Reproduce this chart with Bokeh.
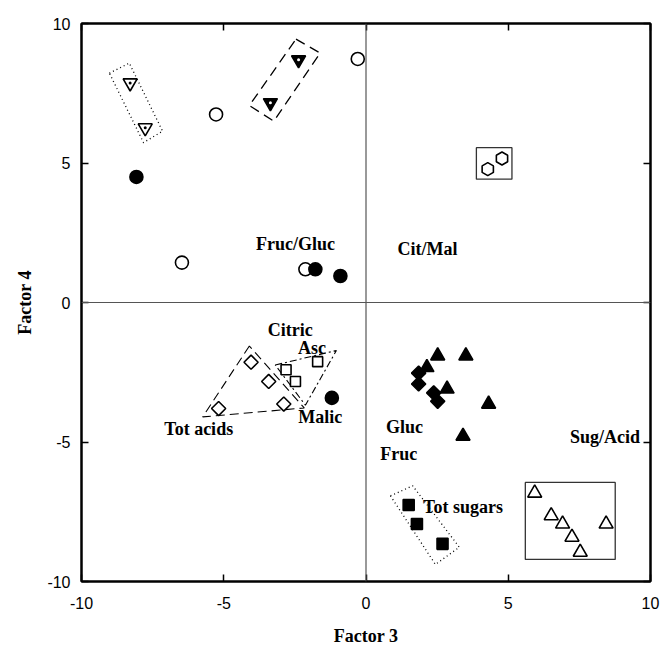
import numpy as np
from bokeh.plotting import figure
from bokeh.models import Range1d, LinearAxis, Span, FixedTicker
from bokeh.core.properties import value
from bokeh.embed import file_html
from bokeh.resources import INLINE

# ---------------- data ----------------
x_ticks = [-10, -5, 0, 5, 10]
y_ticks = [-10, -5, 0, 5, 10]
tick_labels = ["-10", "-5", "0", "5", "10"]

open_circle_x = [-0.29, -5.27, -6.47, -2.13]
open_circle_y = [8.73, 6.74, 1.43, 1.19]
filled_circle_x = [-8.07, -1.78, -0.90, -1.20]
filled_circle_y = [4.50, 1.19, 0.95, -3.42]
open_invtri_x = [-8.29, -7.76]
open_invtri_y = [7.87, 6.26]
filled_invtri_x = [-2.37, -3.36]
filled_invtri_y = [8.70, 7.16]
hex_x = [4.28, 4.78]
hex_y = [4.78, 5.16]
open_diamond_x = [-4.04, -3.42, -2.89, -5.18]
open_diamond_y = [-2.14, -2.83, -3.64, -3.80]
open_square_x = [-2.81, -2.48, -1.70]
open_square_y = [-2.41, -2.83, -2.12]
filled_diamond_x = [1.85, 1.85, 2.38, 2.52]
filled_diamond_y = [-2.53, -2.92, -3.24, -3.54]
filled_tri_x = [2.52, 3.51, 2.14, 2.85, 4.31, 3.41]
filled_tri_y = [-1.91, -1.91, -2.33, -3.10, -3.64, -4.79]
filled_square_x = [1.50, 1.79, 2.69]
filled_square_y = [-7.26, -7.94, -8.65]
open_tri_x = [5.93, 6.51, 6.91, 7.24, 7.53, 8.44]
open_tri_y = [-6.83, -7.64, -7.94, -8.41, -8.95, -7.94]

# enclosures (data units)
enc_invtri_open_x = [-9.02, -8.32, -7.15, -7.82]
enc_invtri_open_y = [8.22, 8.58, 6.14, 5.73]
enc_invtri_filled_x = [-2.46, -1.61, -3.24, -4.10]
enc_invtri_filled_y = [9.44, 8.94, 6.50, 7.06]
enc_hex_x = [3.88, 5.13, 5.13, 3.88]
enc_hex_y = [5.55, 5.55, 4.42, 4.42]
enc_diamond_x = [-4.10, -5.74, -2.17]
enc_diamond_y = [-1.56, -4.10, -3.78]
enc_square_x = [-3.19, -1.04, -2.13]
enc_square_y = [-2.24, -1.72, -3.68]
enc_fsquare_x = [0.86, 1.64, 3.28, 2.44]
enc_fsquare_y = [-6.93, -6.57, -8.77, -9.39]
enc_otri_x = [5.60, 8.76, 8.76, 5.60]
enc_otri_y = [-6.45, -6.45, -9.21, -9.21]

labels = ["Fruc/Gluc", "Cit/Mal", "Citric", "Asc", "Malic", "Tot acids",
          "Gluc", "Fruc", "Sug/Acid", "Tot sugars"]
label_x = [-2.48, 2.16, -2.66, -1.90, -1.61, -5.88, 1.35, 1.15, 8.40, 3.41]
label_y = [2.10, 1.93, -0.99, -1.64, -4.11, -4.53, -4.46, -5.44, -4.81, -7.34]

# ---------------- figure ----------------
p = figure(width=660, height=648, x_range=Range1d(-10, 10), y_range=Range1d(-10, 10),
           output_backend="svg", toolbar_location=None,
           min_border_left=81, min_border_right=10, min_border_top=23, min_border_bottom=64)
p.grid.visible = False
p.outline_line_color = "black"
p.outline_line_width = 2
p.background_fill_color = "white"
p.border_fill_color = "white"

overrides = {t: s for t, s in zip(x_ticks, tick_labels)}

def style_axis(ax, ticks, labels_on=True):
    ax.ticker = FixedTicker(ticks=ticks)
    ax.axis_line_width = 2
    ax.axis_line_color = "black"
    ax.major_tick_in = 7
    ax.major_tick_out = 0
    ax.minor_tick_in = 0
    ax.minor_tick_out = 0
    ax.major_tick_line_width = 1.5
    ax.major_tick_line_color = "black"
    if labels_on:
        ax.major_label_overrides = overrides
        ax.major_label_text_font = "Liberation Sans"
        ax.major_label_text_font_size = "16px"
        ax.major_label_text_color = "black"
        ax.axis_label_text_font = "Liberation Serif"
        ax.axis_label_text_font_style = "bold"
        ax.axis_label_text_font_size = "18px"
        ax.axis_label_text_color = "black"
    else:
        ax.major_label_text_font_size = "0px"
        ax.major_label_standoff = 0

xa = p.xaxis[0]
ya = p.yaxis[0]
style_axis(xa, x_ticks)
style_axis(ya, y_ticks)
xa.axis_label = "Factor 3"
ya.axis_label = "Factor 4"
xa.major_label_standoff = 15
xa.axis_label_standoff = 14
ya.major_label_standoff = 11
ya.axis_label_standoff = 9

top = LinearAxis()
style_axis(top, x_ticks, labels_on=False)
p.add_layout(top, "above")
right = LinearAxis()
style_axis(right, y_ticks, labels_on=False)
p.add_layout(right, "right")

p.add_layout(Span(location=0, dimension="height", line_color="#555555", line_width=1.2))
p.add_layout(Span(location=0, dimension="width", line_color="#555555", line_width=1.2))

# enclosures
p.patch(enc_invtri_open_x, enc_invtri_open_y, fill_color=None, line_color="black",
        line_width=1.3, line_dash="1 3")
p.patch(enc_invtri_filled_x, enc_invtri_filled_y, fill_color=None, line_color="black",
        line_width=1.3, line_dash="10 6")
p.patch(enc_hex_x, enc_hex_y, fill_color=None, line_color="#333333", line_width=1.3)
p.patch(enc_diamond_x, enc_diamond_y, fill_color=None, line_color="black",
        line_width=1.1, line_dash="9 5")
p.patch(enc_square_x, enc_square_y, fill_color=None, line_color="black",
        line_width=1.1, line_dash="7 3 2 3")
p.patch(enc_fsquare_x, enc_fsquare_y, fill_color=None, line_color="black",
        line_width=1.3, line_dash="1 3")
p.patch(enc_otri_x, enc_otri_y, fill_color=None, line_color="#333333", line_width=1.3)

lw = 1.6
# markers
p.scatter(open_circle_x, open_circle_y, marker="circle", size=13, fill_color="white",
          line_color="black", line_width=lw)
p.scatter(filled_circle_x, filled_circle_y, marker="circle", size=13, fill_color="black",
          line_color="black", line_width=lw)
p.scatter(open_invtri_x, open_invtri_y, marker="inverted_triangle", size=14,
          fill_color="white", line_color="black", line_width=lw)
p.scatter(open_invtri_x, open_invtri_y, marker="circle", size=3, fill_color="black",
          line_color=None)
p.scatter(filled_invtri_x, filled_invtri_y, marker="inverted_triangle", size=14,
          fill_color="black", line_color="black", line_width=lw)
p.scatter(filled_invtri_x, filled_invtri_y, marker="circle", size=3, fill_color="white",
          line_color=None)
p.scatter(hex_x, hex_y, marker="hex", size=13, angle=np.pi / 2, fill_color="white",
          line_color="black", line_width=lw)
p.scatter(open_diamond_x, open_diamond_y, marker="square", size=10, angle=np.pi / 4,
          fill_color="white", line_color="black", line_width=lw)
p.scatter(open_square_x, open_square_y, marker="square", size=10, fill_color="white",
          line_color="black", line_width=lw)
p.scatter(filled_diamond_x, filled_diamond_y, marker="square", size=10, angle=np.pi / 4,
          fill_color="black", line_color="black", line_width=lw)
p.scatter(filled_tri_x, filled_tri_y, marker="triangle", size=14, fill_color="black",
          line_color="black", line_width=lw)
p.scatter(filled_square_x, filled_square_y, marker="square", size=11, fill_color="black",
          line_color="black", line_width=lw)
p.scatter(open_tri_x, open_tri_y, marker="triangle", size=14, fill_color="white",
          line_color="black", line_width=lw)

p.text(label_x, label_y, text=labels, text_font=value("Liberation Serif"),
       text_font_style="bold", text_font_size="18px", text_color="black",
       text_align="center", text_baseline="middle")

open("out.html", "w").write(file_html(p, INLINE))
